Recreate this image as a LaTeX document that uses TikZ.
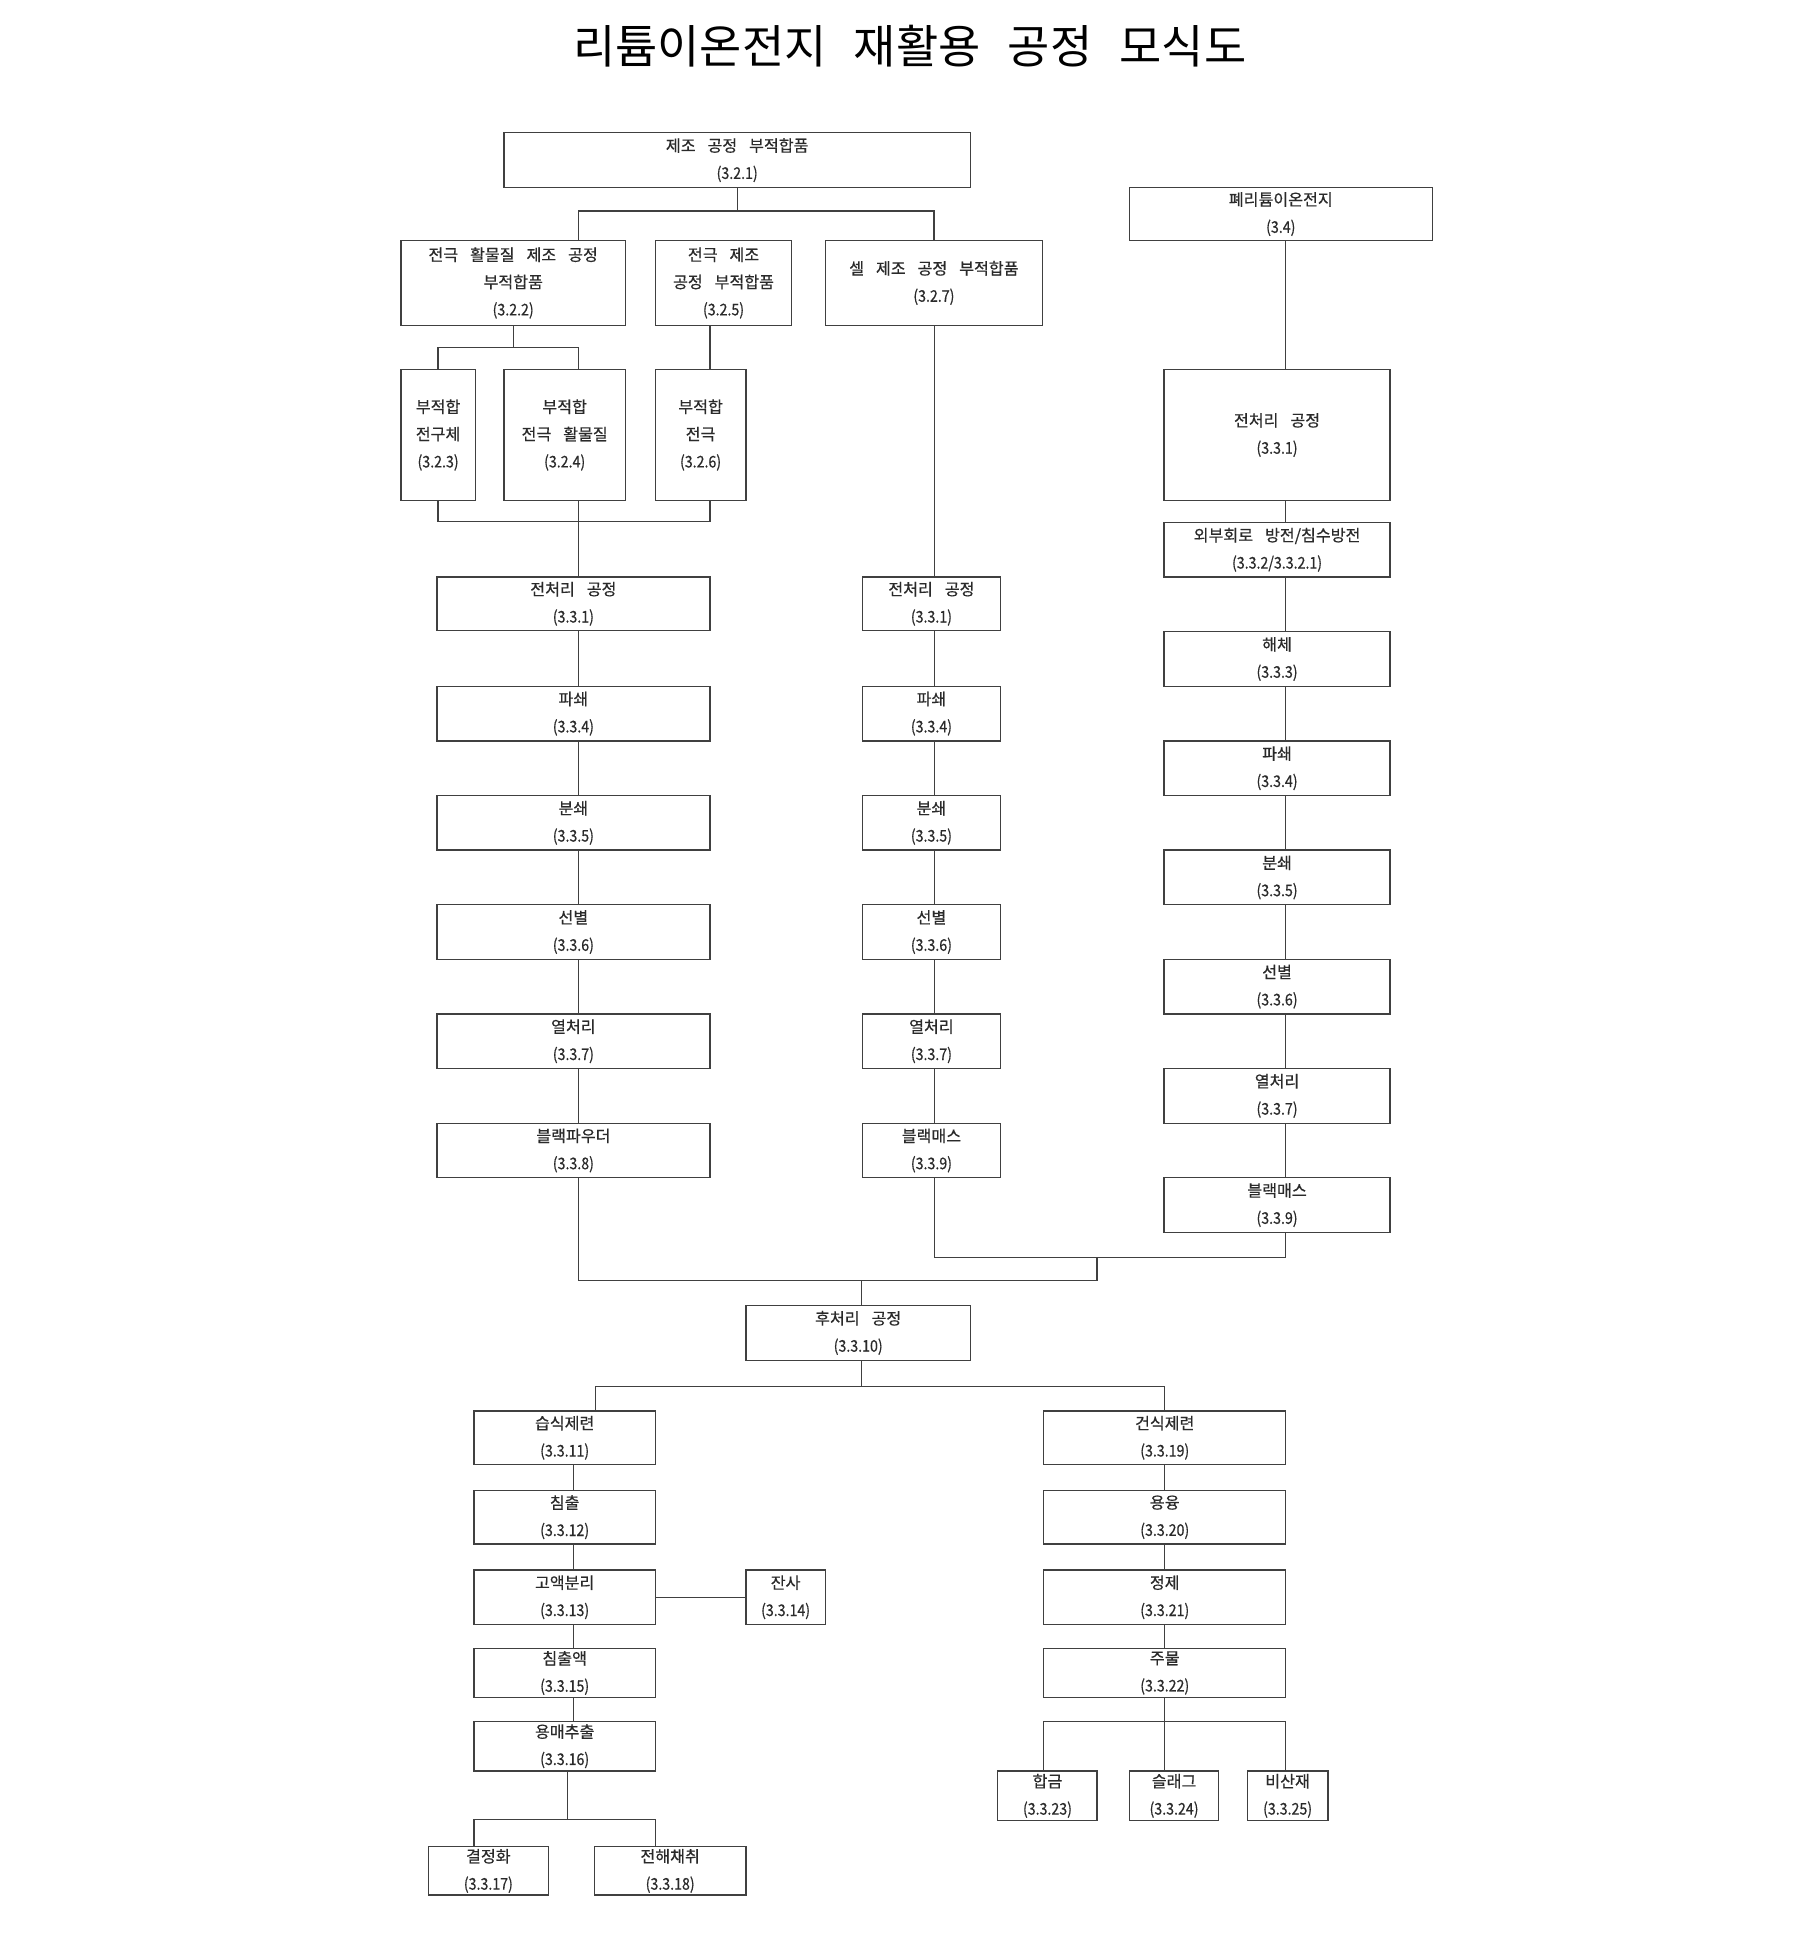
\documentclass[tikz,border=0pt]{standalone}
\usepackage{fontspec}
\setmainfont{Noto Sans CJK KR}[WordSpace=3.3]
\newfontfamily\boxfont{Noto Sans CJK KR}[WordSpace=3.3, FakeBold=0.5]
\newfontfamily\titlefont{Noto Sans CJK KR}[WordSpace=2.65]
\definecolor{linec}{HTML}{404040}
\definecolor{textc}{HTML}{2A2A2A}
\tikzset{
  bx/.style={draw=linec, line width=1.05pt, inner sep=0pt, align=center, text=textc,
             font=\boxfont\fontsize{13}{22}\selectfont},
  ln/.style={draw=linec, line width=1.05pt}
}
\newcommand\cn[1]{\scalebox{0.88}[1]{#1}}
\newcommand\mkbox[6]{%
  \node[bx, minimum width={#4-#2}, minimum height={#5-#3}] (#1) at ({(#2+#4)/2},{-(#3+#5)/2}) {#6};}
\begin{document}
\begin{tikzpicture}[x=1pt,y=1pt]
\useasboundingbox (0,0) rectangle (1466,-1568);
\fill[white] (0,0) rectangle (1466,-1568);

\node[font=\titlefont\fontsize{37}{44}\selectfont, text=black] (title) at (733,-37) {리튬이온전지 재활용 공정 모식도};

% top level
\mkbox{b321}{406}{107}{782}{151}{제조 공정 부적합품\\\cn{(3.2.1)}}
\mkbox{b322}{323}{194}{504}{262}{전극 활물질 제조 공정\\부적합품\\\cn{(3.2.2)}}
\mkbox{b325}{528}{194}{638}{262}{전극 제조\\공정 부적합품\\\cn{(3.2.5)}}
\mkbox{b327}{665}{194}{840}{262}{셀 제조 공정 부적합품\\\cn{(3.2.7)}}
\mkbox{b34}{910}{151}{1154}{194}{폐리튬이온전지\\\cn{(3.4)}}

\mkbox{b323}{323}{298}{383}{403}{부적합\\전구체\\\cn{(3.2.3)}}
\mkbox{b324}{406}{298}{504}{403}{부적합\\전극 활물질\\\cn{(3.2.4)}}
\mkbox{b326}{528}{298}{601}{403}{부적합\\전극\\\cn{(3.2.6)}}

% left column
\mkbox{l1}{352}{465}{572}{508}{전처리 공정\\\cn{(3.3.1)}}
\mkbox{l4}{352}{553}{572}{597}{파쇄\\\cn{(3.3.4)}}
\mkbox{l5}{352}{641}{572}{685}{분쇄\\\cn{(3.3.5)}}
\mkbox{l6}{352}{729}{572}{773}{선별\\\cn{(3.3.6)}}
\mkbox{l7}{352}{817}{572}{861}{열처리\\\cn{(3.3.7)}}
\mkbox{l8}{352}{905}{572}{949}{블랙파우더\\\cn{(3.3.8)}}

% middle column
\mkbox{m1}{695}{465}{806}{508}{전처리 공정\\\cn{(3.3.1)}}
\mkbox{m4}{695}{553}{806}{597}{파쇄\\\cn{(3.3.4)}}
\mkbox{m5}{695}{641}{806}{685}{분쇄\\\cn{(3.3.5)}}
\mkbox{m6}{695}{729}{806}{773}{선별\\\cn{(3.3.6)}}
\mkbox{m7}{695}{817}{806}{861}{열처리\\\cn{(3.3.7)}}
\mkbox{m9}{695}{905}{806}{949}{블랙매스\\\cn{(3.3.9)}}

% right column
\mkbox{r1}{938}{298}{1120}{403}{전처리 공정\\\cn{(3.3.1)}}
\mkbox{r2}{938}{421}{1120}{465}{외부회로 방전/침수방전\\\cn{(3.3.2/3.3.2.1)}}
\mkbox{r3}{938}{509}{1120}{553}{해체\\\cn{(3.3.3)}}
\mkbox{r4}{938}{597}{1120}{641}{파쇄\\\cn{(3.3.4)}}
\mkbox{r5}{938}{685}{1120}{729}{분쇄\\\cn{(3.3.5)}}
\mkbox{r6}{938}{773}{1120}{817}{선별\\\cn{(3.3.6)}}
\mkbox{r7}{938}{861}{1120}{905}{열처리\\\cn{(3.3.7)}}
\mkbox{r9}{938}{949}{1120}{993}{블랙매스\\\cn{(3.3.9)}}

% post-processing
\mkbox{p10}{601}{1052}{782}{1096}{후처리 공정\\\cn{(3.3.10)}}

% wet
\mkbox{w11}{382}{1137}{528}{1180}{습식제련\\\cn{(3.3.11)}}
\mkbox{w12}{382}{1201}{528}{1244}{침출\\\cn{(3.3.12)}}
\mkbox{w13}{382}{1265}{528}{1309}{고액분리\\\cn{(3.3.13)}}
\mkbox{w14}{601}{1265}{665}{1309}{잔사\\\cn{(3.3.14)}}
\mkbox{w15}{382}{1328}{528}{1368}{침출액\\\cn{(3.3.15)}}
\mkbox{w16}{382}{1387}{528}{1427}{용매추출\\\cn{(3.3.16)}}
\mkbox{w17}{345}{1488}{442}{1527}{결정화\\\cn{(3.3.17)}}
\mkbox{w18}{479}{1488}{601}{1527}{전해채취\\\cn{(3.3.18)}}

% dry
\mkbox{d19}{841}{1137}{1036}{1180}{건식제련\\\cn{(3.3.19)}}
\mkbox{d20}{841}{1201}{1036}{1244}{용융\\\cn{(3.3.20)}}
\mkbox{d21}{841}{1265}{1036}{1309}{정제\\\cn{(3.3.21)}}
\mkbox{d22}{841}{1328}{1036}{1368}{주물\\\cn{(3.3.22)}}
\mkbox{d23}{804}{1427}{884}{1467}{합금\\\cn{(3.3.23)}}
\mkbox{d24}{910}{1427}{982}{1467}{슬래그\\\cn{(3.3.24)}}
\mkbox{d25}{1005}{1427}{1070}{1467}{비산재\\\cn{(3.3.25)}}

% column x positions and junctions
\coordinate (cL) at (466,0);
\coordinate (cM) at (753,0);
\coordinate (cR) at (1036,0);
\coordinate (cB) at (572,0);
\coordinate (cW) at (462,0);
\coordinate (c480) at (480,0);
\coordinate (c382) at (382,0);
\coordinate (c528) at (528,0);
\coordinate (c841) at (841,0);
\coordinate (j1) at (594,-170);
\coordinate (j2) at (413.5,-280);
\coordinate (j3) at (466,-420);
\coordinate (jm) at (884,-1013);
\coordinate (jb) at (694,-1032);
\coordinate (jp) at (694,-1117);
\coordinate (jw) at (457,-1466);
\coordinate (jd) at (938.5,-1387);

% connectors: top
\draw[ln] (b321.south) -- (j1);
\draw[ln] (b322.north -| cL) |- (j1) -| (b327.north);
\draw[ln] (b322.south) -- (j2);
\draw[ln] (b323.north) |- (j2) -| (b324.north -| cL);
\draw[ln] (b325.south -| cB) -- (b326.north -| cB);
\draw[ln] (b323.south) |- (j3) -| (b326.south -| cB);
\draw[ln] (b324.south -| cL) -- (l1.north -| cL);

% left chain
\foreach \a/\b in {l1/l4,l4/l5,l5/l6,l6/l7,l7/l8}
  \draw[ln] (\a.south -| cL) -- (\b.north -| cL);
% middle chain
\draw[ln] (b327.south -| cM) -- (m1.north -| cM);
\foreach \a/\b in {m1/m4,m4/m5,m5/m6,m6/m7,m7/m9}
  \draw[ln] (\a.south -| cM) -- (\b.north -| cM);
% right chain
\draw[ln] (b34.south -| cR) -- (r1.north -| cR);
\foreach \a/\b in {r1/r2,r2/r3,r3/r4,r4/r5,r5/r6,r6/r7,r7/r9}
  \draw[ln] (\a.south -| cR) -- (\b.north -| cR);

% convergence
\draw[ln] (m9.south -| cM) |- (jm) -| (r9.south -| cR);
\draw[ln] (l8.south -| cL) |- (jb) -| (jm);
\draw[ln] (jb) -- (p10.north -| jb);
\draw[ln] (p10.south -| jb) -- (jp);
\draw[ln] (w11.north -| c480) |- (jp) -| (d19.north);

% wet chain
\foreach \a/\b in {w11/w12,w12/w13,w13/w15,w15/w16}
  \draw[ln] (\a.south -| cW) -- (\b.north -| cW);
\draw[ln] (w13.east) -- (w14.west);
\draw[ln] (w16.south -| jw) -- (jw);
\draw[ln] (w17.north -| c382) |- (jw) -| (w18.north -| c528);

% dry chain
\foreach \a/\b in {d19/d20,d20/d21,d21/d22}
  \draw[ln] (\a.south) -- (\b.north);
\draw[ln] (d22.south) -- (jd);
\draw[ln] (d23.north -| c841) |- (jd) -| (d25.north -| cR);
\draw[ln] (jd) -- (d24.north -| jd);
\end{tikzpicture}
\end{document}
